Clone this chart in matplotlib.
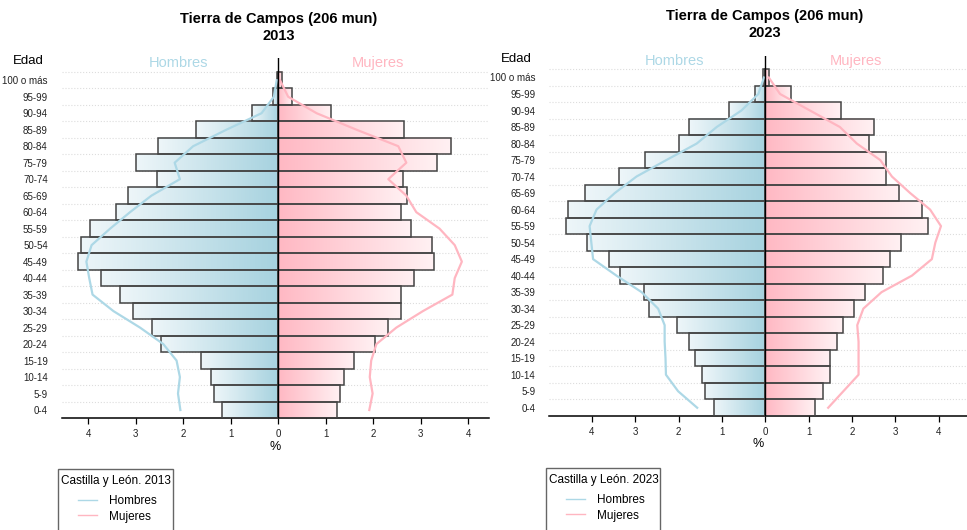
import numpy as np
import matplotlib
matplotlib.use("Agg")
import matplotlib.pyplot as plt
from matplotlib.colors import LinearSegmentedColormap
from matplotlib.lines import Line2D
from matplotlib.patches import Rectangle

plt.rcParams['font.family'] = ['Liberation Sans', 'DejaVu Sans']

edades = ['0-4', '5-9', '10-14', '15-19', '20-24', '25-29', '30-34', '35-39',
          '40-44', '45-49', '50-54', '55-59', '60-64', '65-69', '70-74',
          '75-79', '80-84', '85-89', '90-94', '95-99', '100 o más']

# Tierra de Campos, % de poblacion
hombres_2013 = [1.19, 1.35, 1.41, 1.63, 2.46, 2.65, 3.05, 3.33, 3.74, 4.21, 4.16,
                3.96, 3.42, 3.16, 2.56, 3.00, 2.53, 1.73, 0.55, 0.105, 0.02]
mujeres_2013 = [1.24, 1.31, 1.39, 1.60, 2.05, 2.32, 2.58, 2.58, 2.87, 3.28, 3.25,
                2.80, 2.58, 2.71, 2.63, 3.34, 3.65, 2.65, 1.11, 0.29, 0.09]
hombres_2023 = [1.19, 1.38, 1.47, 1.61, 1.75, 2.04, 2.69, 2.79, 3.34, 3.60, 4.10,
                4.59, 4.55, 4.15, 3.37, 2.78, 2.00, 1.75, 0.83, 0.24, 0.05]
mujeres_2023 = [1.14, 1.32, 1.49, 1.49, 1.66, 1.80, 2.05, 2.31, 2.72, 2.88, 3.13,
                3.75, 3.61, 3.09, 2.78, 2.78, 2.38, 2.51, 1.75, 0.59, 0.09]

# Castilla y Leon (lineas)
cyl_h_2013 = [2.06, 2.11, 2.07, 2.14, 2.42, 2.91, 3.47, 3.91, 3.98, 4.04, 3.93,
              3.54, 3.12, 2.67, 2.07, 2.18, 1.79, 1.09, 0.35, 0.09, 0.03]
cyl_m_2013 = [1.92, 1.99, 1.93, 1.96, 2.07, 2.49, 3.05, 3.67, 3.72, 3.87, 3.72,
              3.40, 2.91, 2.70, 2.32, 2.70, 2.53, 1.65, 0.81, 0.21, 0.04]
cyl_h_2023 = [1.57, 2.01, 2.29, 2.30, 2.32, 2.32, 2.47, 2.85, 3.43, 3.97, 4.01,
              4.05, 3.89, 3.47, 2.97, 2.28, 1.58, 1.12, 0.55, 0.16, 0.03]
cyl_m_2023 = [1.45, 1.80, 2.15, 2.15, 2.15, 2.12, 2.26, 2.68, 3.38, 3.84, 3.92,
              4.05, 3.80, 3.34, 2.92, 2.65, 2.11, 1.72, 1.03, 0.34, 0.08]

ticks = [-4, -3, -2, -1, 0, 1, 2, 3, 4]

AZUL = '#add8e6'
ROSA = '#ffb6c1'
cmap_h = LinearSegmentedColormap.from_list('h', ['#eef6f9', '#a6d2df'])
cmap_m = LinearSegmentedColormap.from_list('m', ['#ffb8c3', '#fff1f3'])
grad = np.linspace(0, 1, 256).reshape(1, -1)

W, H = 967, 530


def piramide(fig, rect, xlim, ytop, anio, hom, muj, lh, lm, titulo_x, titulo_y):
    ax = fig.add_axes(rect)
    y = np.arange(len(edades))
    for i in y:
        ax.imshow(grad, cmap=cmap_h, extent=(-hom[i], 0, i - 0.5, i + 0.5),
                  aspect='auto', zorder=2)
        ax.imshow(grad, cmap=cmap_m, extent=(0, muj[i], i - 0.5, i + 0.5),
                  aspect='auto', zorder=2)
    ax.barh(y, [-v for v in hom], height=1.0, color='none',
            edgecolor='#444444', linewidth=1.1, zorder=3)
    ax.barh(y, muj, height=1.0, color='none',
            edgecolor='#444444', linewidth=1.1, zorder=3)
    for b in np.arange(-0.5, len(edades), 1.0):
        ax.axhline(b, color='#dddddd', linestyle=':', linewidth=0.8, zorder=1)
    ax.plot([-v for v in lh], y, color=AZUL, linewidth=1.6, zorder=4)
    ax.plot(lm, y, color=ROSA, linewidth=1.6, zorder=4)
    ax.axvline(0, color='black', linewidth=1.0, zorder=5)

    ax.set_xlim(xlim)
    ax.set_ylim(-0.5, ytop)
    ax.set_yticks(y)
    ax.set_yticklabels(edades, fontsize=7, color='#222222')
    ax.tick_params(axis='y', length=0, pad=10)
    ax.set_xticks(ticks)
    ax.set_xticklabels([str(abs(t)) for t in ticks], fontsize=7, color='#222222')
    ax.tick_params(axis='x', length=4, width=0.9, pad=4)
    ax.set_xlabel('%', fontsize=9, labelpad=1)
    for s in ['top', 'right', 'left']:
        ax.spines[s].set_visible(False)
    ax.spines['bottom'].set_linewidth(1.1)

    ax.text(-2.1, ytop - 0.3, 'Hombres', color=AZUL, fontsize=10.5,
            ha='center', va='center')
    ax.text(2.1, ytop - 0.3, 'Mujeres', color=ROSA, fontsize=10.5,
            ha='center', va='center')
    ax.text(-0.079, ytop - 0.2, 'Edad', transform=ax.get_yaxis_transform(),
            fontsize=9.5, ha='center', va='center')

    fig.text(titulo_x, titulo_y, 'Tierra de Campos (206 mun)\n' + str(anio),
             ha='center', va='center', fontsize=10.5, fontweight='bold',
             linespacing=1.25)


def leyenda(fig, x0, x1, top, anio):
    # caja, titulo y entradas de la leyenda (en pixeles de la figura)
    fig.patches.append(Rectangle((x0 / W, -0.02), (x1 - x0) / W, 1 - top / H + 0.02,
                                 transform=fig.transFigure, fill=False,
                                 edgecolor='#666666', linewidth=1.0))
    fig.text((x0 + 3) / W, 1 - (top + 12) / H, 'Castilla y León. ' + anio,
             fontsize=8.5, ha='left', va='center')
    handles = [Line2D([], [], color=AZUL, linewidth=1.0),
               Line2D([], [], color=ROSA, linewidth=1.0)]
    fig.legend(handles, ['Hombres', 'Mujeres'], loc='upper left',
               bbox_to_anchor=((x0 + 20) / W, 1 - (top + 26) / H),
               fontsize=8.5, frameon=False, handlelength=1.6,
               borderpad=0, labelspacing=0.3, handletextpad=1.0, borderaxespad=0)


fig = plt.figure(figsize=(W / 100, H / 100), dpi=100)

piramide(fig, [0.0638, 0.2108, 0.4418, 0.6798], (-4.56, 4.44), 21.35,
         2013, hombres_2013, mujeres_2013, cyl_h_2013, cyl_m_2013,
         0.288, 1 - 27.5 / H)
piramide(fig, [0.568, 0.2151, 0.432, 0.6792], (-4.98, 4.65), 21.3,
         2023, hombres_2023, mujeres_2023, cyl_h_2023, cyl_m_2023,
         0.791, 1 - 24.5 / H)

leyenda(fig, 58, 173, 469, '2013')
leyenda(fig, 546, 660, 468, '2023')

fig.savefig('out.png', dpi=100)
